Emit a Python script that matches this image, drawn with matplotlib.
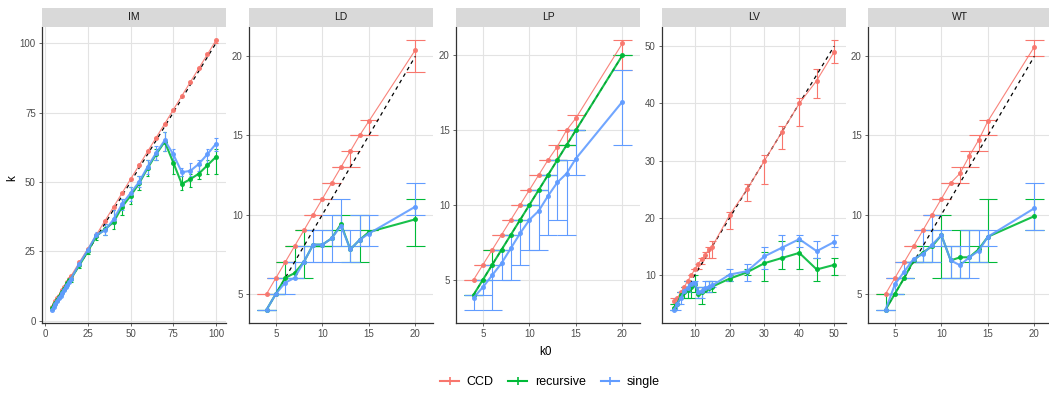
import numpy as np
import matplotlib
matplotlib.use("Agg")
import matplotlib.pyplot as plt
from matplotlib.lines import Line2D

plt.rcParams["font.family"] = ["Liberation Sans", "DejaVu Sans"]

# --- data ---
panels = ["IM", "LD", "LP", "LV", "WT"]
methods = ["CCD", "recursive", "single"]
colors = {"CCD": "#F8766D", "recursive": "#00BA38", "single": "#619CFF"}

IM_x = [4, 5, 6, 7, 8, 9, 10, 11, 12, 13, 14, 15, 20, 25, 30, 35, 40, 45, 50, 55, 60, 65, 70, 75, 80, 85, 90, 95, 100]
IM_ccd = [5, 6, 7, 8, 9, 10, 11, 12, 13, 14, 15, 16, 21, 26, 31, 36, 41, 46, 51, 56, 61, 66, 71, 76, 81, 86, 91, 96, 101]
IM_ccd_lo = [5, 6, 7, 8, 9, 10, 11, 12, 13, 14, 15, 16, 21, 26, 31, 36, 41, 46, 51, 56, 61, 66, 71, 76, 81, 86, 91, 96, 100]
IM_ccd_hi = [5, 6, 7, 8, 9, 10, 11, 12, 13, 14, 15, 16, 21, 26, 31, 36, 41, 46, 51, 56, 61, 66, 71, 76, 81, 86, 91, 96, 101]
IM_rec = [4.5, 5.5, 6.5, 7.5, 8.5, 9.5, 10.5, 11.5, 12.5, 13.5, 14.5, 15, 20, 25, 30.5, 33, 35.5, 41, 45, 49.5, 55, 60, 64.5, 57, 49.3, 51, 53, 56, 59]
IM_rec_lo = [4, 5, 6, 7, 8, 9, 10, 11, 12, 13, 14, 14, 19, 24, 29, 31, 33, 38, 42, 47, 52, 58, 61, 53, 47, 48, 51, 53, 53]
IM_rec_hi = [5, 6, 7, 8, 9, 10, 11, 12, 13, 14, 15, 16, 21, 26, 31, 35, 40, 44, 48, 52, 58, 62, 68, 60, 52, 53, 56, 58, 62]
IM_sgl = [4, 5, 6, 7, 8, 9, 10, 11, 12, 13, 14, 15, 20.5, 25.5, 31, 32.5, 36.5, 42, 46, 50, 55.5, 60.5, 65, 60, 53.5, 54, 56.5, 60, 63.7]
IM_sgl_lo = [4, 5, 6, 7, 8, 9, 10, 11, 12, 13, 14, 15, 20, 25, 30, 31, 35, 40, 43, 48, 53, 58, 61, 58, 52, 52, 54, 57, 61]
IM_sgl_hi = [4, 5, 6, 7, 8, 9, 10, 11, 12, 13, 14, 15, 21, 26, 32, 35, 40, 44, 48, 52, 58, 63, 68, 62, 55, 57, 58, 62, 66]

LD_x = [4, 5, 6, 7, 8, 9, 10, 11, 12, 13, 14, 15, 20]
LD_ccd = [5, 6, 7, 8, 9, 10, 11, 12, 13, 14, 15, 15.9, 20.4]
LD_ccd_lo = [5, 6, 7, 8, 9, 10, 11, 12, 13, 13, 15, 15, 19]
LD_ccd_hi = [5, 6, 7, 8, 9, 10, 11, 12, 13, 14, 15, 16, 21]
LD_rec = [4, 5, 6, 6.3, 7, 8.1, 8.1, 8.5, 9.4, 7.8, 8.4, 8.9, 9.7]
LD_rec_lo = [4, 5, 6, 6, 6, 8, 8, 8, 9, 7, 7, 9, 8]
LD_rec_hi = [4, 5, 7, 8, 9, 8, 8, 9, 10, 8, 10, 9, 11]
LD_sgl = [4, 5, 5.7, 6, 7, 8.1, 8.1, 8.5, 9.3, 7.8, 8.4, 8.8, 10.5]
LD_sgl_lo = [4, 5, 5, 6, 7, 7, 7, 7, 8, 7, 8, 8, 10]
LD_sgl_hi = [4, 6, 6, 7, 8, 9, 9, 10, 11, 9, 10, 10, 12]

LP_x = [4, 5, 6, 7, 8, 9, 10, 11, 12, 13, 14, 15, 20]
LP_ccd = [5, 6, 7, 8, 9, 10, 11, 12, 13, 13.9, 15, 15.8, 20.8]
LP_ccd_lo = [5, 6, 7, 8, 9, 10, 11, 12, 13, 13, 14, 15, 19]
LP_ccd_hi = [5, 6, 7, 8, 9, 10, 11, 12, 13, 14, 15, 16, 21]
LP_rec = [4, 5, 6, 7, 8, 9, 10, 11, 12, 13, 14, 15, 20]
LP_rec_lo = [4, 5, 6, 7, 8, 9, 10, 11, 12, 13, 14, 15, 20]
LP_rec_hi = [4, 5, 7, 7, 8, 9, 10, 11, 12, 13, 14, 15, 20]
LP_sgl = [3.8, 4.5, 5.3, 6.1, 7.1, 8.1, 9, 9.6, 10.6, 11.5, 12.1, 13.1, 16.9]
LP_sgl_lo = [3, 4, 3, 5, 5, 6, 7, 7, 8, 9, 8, 12, 14]
LP_sgl_hi = [4, 5, 6, 7, 8, 9, 10, 11, 12, 13, 13, 15, 19]

LV_x = [4, 5, 6, 7, 8, 9, 10, 11, 12, 13, 14, 15, 20, 25, 30, 35, 40, 45, 50]
LV_ccd = [5.5, 6, 7, 8, 9, 10, 11, 12, 12.8, 13.5, 14.5, 15, 20.5, 25, 30, 35, 40, 44, 49]
LV_ccd_lo = [5, 6, 7, 8, 9, 10, 11, 11, 12, 13, 13, 13, 18, 23, 26, 32, 36, 41, 47]
LV_ccd_hi = [6, 6, 7, 8, 9, 10, 11, 12, 13, 14, 15, 16, 21, 26, 31, 36, 41, 46, 51]
LV_rec = [4.3, 5, 6.5, 7, 7.5, 8, 8.5, 6.8, 7, 7.5, 7.7, 8, 9.4, 10.5, 12.1, 13, 13.9, 11, 11.8]
LV_rec_lo = [4, 5, 6, 6, 6, 6, 7, 6, 5, 7, 7, 7, 9, 10, 9, 11, 11, 9, 10]
LV_rec_hi = [5, 5, 7, 8, 9, 9, 10, 8, 8, 8, 9, 9, 10, 11, 14, 16, 16, 13, 13]
LV_sgl = [4, 5, 6, 7.3, 7.8, 8.5, 8.7, 7, 7.2, 7.7, 8, 8.2, 10.1, 10.7, 13.3, 14.8, 16.3, 14.2, 15.8]
LV_sgl_lo = [4, 4, 5, 7, 7, 8, 8, 6, 6, 7, 7, 8, 9, 9, 11, 13, 15, 13, 15]
LV_sgl_hi = [4, 6, 7, 8, 9, 9, 9, 8, 8, 9, 9, 9, 11, 12, 15, 17, 17, 16, 17]

WT_x = [4, 5, 6, 7, 8, 9, 10, 11, 12, 13, 14, 15, 20]
WT_ccd = [5, 6, 7, 8, 9, 10, 11, 12, 12.6, 13.7, 14.7, 15.9, 20.6]
WT_ccd_lo = [5, 6, 7, 8, 9, 10, 11, 12, 12, 13, 14, 15, 20]
WT_ccd_hi = [5, 6, 7, 8, 9, 10, 11, 12, 13, 14, 15, 16, 21]
WT_rec = [4, 5, 6, 7.1, 7.6, 8, 8.7, 7.1, 7.3, 7.3, 7.8, 8.6, 9.9]
WT_rec_lo = [4, 5, 6, 7, 7, 7, 6, 6, 6, 7, 7, 7, 9]
WT_rec_hi = [5, 5, 6, 7, 8, 9, 10, 8, 9, 9, 8, 11, 11]
WT_sgl = [4, 5.6, 6.4, 7.2, 7.5, 8.1, 8.7, 7.1, 6.8, 7.3, 7.7, 8.6, 10.4]
WT_sgl_lo = [4, 5, 6, 7, 7, 7, 8, 6, 6, 6, 7, 8, 9]
WT_sgl_hi = [4, 6, 7, 7, 9, 10, 9, 8, 8, 9, 9, 9, 12]

ticks = {
    "IM": ([0, 25, 50, 75, 100], [0, 25, 50, 75, 100]),
    "LD": ([5, 10, 15, 20], [5, 10, 15, 20]),
    "LP": ([5, 10, 15, 20], [5, 10, 15, 20]),
    "LV": ([10, 20, 30, 40, 50], [10, 20, 30, 40, 50]),
    "WT": ([5, 10, 15, 20], [5, 10, 15, 20]),
}

data = {
    "IM": (IM_x, [(IM_ccd, IM_ccd_lo, IM_ccd_hi), (IM_rec, IM_rec_lo, IM_rec_hi), (IM_sgl, IM_sgl_lo, IM_sgl_hi)]),
    "LD": (LD_x, [(LD_ccd, LD_ccd_lo, LD_ccd_hi), (LD_rec, LD_rec_lo, LD_rec_hi), (LD_sgl, LD_sgl_lo, LD_sgl_hi)]),
    "LP": (LP_x, [(LP_ccd, LP_ccd_lo, LP_ccd_hi), (LP_rec, LP_rec_lo, LP_rec_hi), (LP_sgl, LP_sgl_lo, LP_sgl_hi)]),
    "LV": (LV_x, [(LV_ccd, LV_ccd_lo, LV_ccd_hi), (LV_rec, LV_rec_lo, LV_rec_hi), (LV_sgl, LV_sgl_lo, LV_sgl_hi)]),
    "WT": (WT_x, [(WT_ccd, WT_ccd_lo, WT_ccd_hi), (WT_rec, WT_rec_lo, WT_rec_hi), (WT_sgl, WT_sgl_lo, WT_sgl_hi)]),
}

W, H = 1049, 394
fig = plt.figure(figsize=(W / 100, H / 100), dpi=100)

lefts = [42, 249, 456, 662, 868]
pw = 184
top, bottom, strip_top = 27, 323, 8
cap = 1.0  # half width of error bar caps (data units)

for name, left in zip(panels, lefts):
    ax = fig.add_axes([left / W, 1 - bottom / H, pw / W, (bottom - top) / H])
    x, series = data[name]
    x = np.array(x, dtype=float)

    # reference line k = k0 (under the series)
    ax.plot([x.min(), x.max()], [x.min(), x.max()], color="black", lw=0.9,
            ls=(0, (3, 3)), zorder=2.5)

    for m, (mean, lo, hi) in zip(methods, series):
        c = colors[m]
        lw = 0.8 if m == "CCD" else 1.5
        ax.vlines(x, lo, hi, color=c, lw=0.8, zorder=2)
        ax.hlines(lo, x - cap, x + cap, color=c, lw=0.8, zorder=2)
        ax.hlines(hi, x - cap, x + cap, color=c, lw=0.8, zorder=2)
        ax.plot(x, mean, color=c, lw=lw, marker="o", ms=2.6, alpha=0.9, zorder=3)

    # ggplot-like limits: 5% expansion around data and caps
    allv = np.concatenate([np.ravel(s) for s in series]).astype(float)
    x0, x1 = x.min() - cap, x.max() + cap
    y0, y1 = allv.min(), allv.max()
    ax.set_xlim(x0 - 0.05 * (x1 - x0), x1 + 0.05 * (x1 - x0))
    ax.set_ylim(y0 - 0.05 * (y1 - y0), y1 + 0.05 * (y1 - y0))

    xt, yt = ticks[name]
    ax.set_xticks(xt)
    ax.set_yticks(yt)
    ax.tick_params(labelsize=7, colors="#4D4D4D", length=2.5, width=0.6, pad=2)
    ax.grid(True, color="#E3E3E3", lw=0.8)
    ax.set_axisbelow(True)
    for s in ["top", "right"]:
        ax.spines[s].set_visible(False)
    for s in ["left", "bottom"]:
        ax.spines[s].set_color("#333333")
        ax.spines[s].set_linewidth(0.9)

    # facet strip
    sax = fig.add_axes([left / W, 1 - top / H, pw / W, (top - strip_top) / H])
    sax.set_facecolor("#D9D9D9")
    sax.set_xticks([])
    sax.set_yticks([])
    for s in sax.spines.values():
        s.set_visible(False)
    sax.text(0.5, 0.5, name, ha="center", va="center", fontsize=7.5, color="#1A1A1A",
             transform=sax.transAxes)

fig.text(545 / W, 1 - 352 / H, "k0", ha="center", va="center", fontsize=8.5)
fig.text(12 / W, 1 - 178 / H, "k", ha="center", va="center", fontsize=8.5, rotation=90)

handles = [Line2D([0], [0], color=colors[m], lw=1.5, marker="+", ms=6, mew=1.2) for m in methods]
fig.legend(handles, methods, loc="center", bbox_to_anchor=(550 / W, 1 - 382 / H), ncol=3,
           frameon=False, fontsize=9, handlelength=1.5, handletextpad=0.6, columnspacing=1.2)

fig.savefig("out.png", dpi=100)
